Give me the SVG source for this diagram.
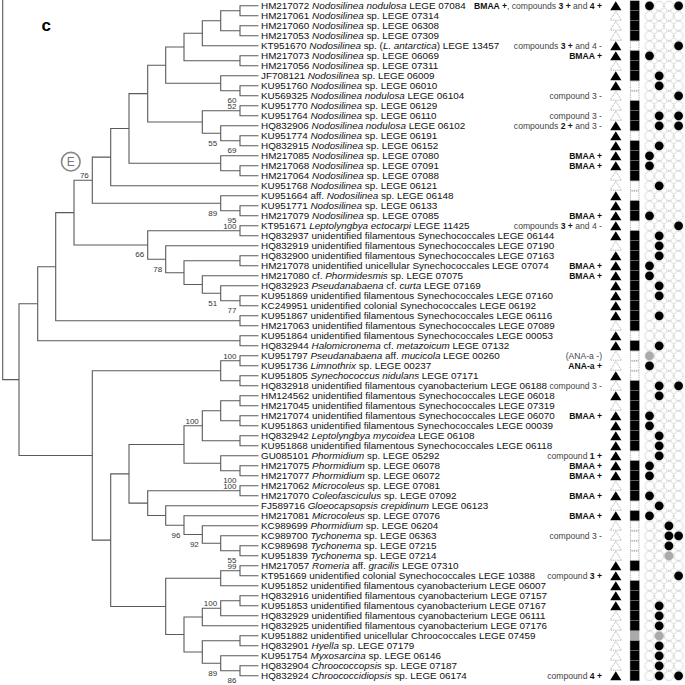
<svg xmlns="http://www.w3.org/2000/svg" width="685" height="685" viewBox="0 0 685 685">
<style>
.lab{font-family:"Liberation Sans",Arial,sans-serif;font-size:9.9px;fill:#111}
.i{font-style:italic}
.ann{font-family:"Liberation Sans",Arial,sans-serif;font-size:8.6px;fill:#444;text-anchor:end}
.b{font-weight:bold;fill:#111}
.bs{font-family:"Liberation Sans",Arial,sans-serif;font-size:8px;fill:#333;text-anchor:end}
.tree path{fill:none;stroke:#5a5a5a;stroke-width:1.1}
</style>
<defs>
<path id="tb" d="M0,-4.6 L5.6,4.4 L-5.6,4.4Z" fill="#000"/>
<path id="tw" d="M0,-4.6 L5.6,4.4 L-5.6,4.4Z" fill="#fff" stroke="#999" stroke-width="0.8" stroke-dasharray="1 0.8"/>
<rect id="sb" x="-4.65" y="-5" width="9.3" height="10" fill="#000" stroke="#888" stroke-width="0.4"/>
<rect id="sw" x="-4.3" y="-4.6" width="8.6" height="9.2" fill="#fff" stroke="#999" stroke-width="0.8" stroke-dasharray="1 0.8"/>
<rect id="sg" x="-4.65" y="-5" width="9.3" height="10" fill="#aaa"/>
<circle id="cb" r="4.4" fill="#000"/>
<circle id="cg" r="4.4" fill="#aaa"/>
<pattern id="dots" patternUnits="userSpaceOnUse" x="644.65" y="-5" width="9.7" height="10">
<circle cx="4.85" cy="5" r="4.6" fill="none" stroke="#a0a0a0" stroke-width="0.8" stroke-dasharray="1 0.8"/>
</pattern>
</defs>
<rect width="685" height="685" fill="#fff"/>
<g transform="translate(0,5.8)">
<text x="41.5" y="24.9" font-family="Liberation Sans,Arial,sans-serif" font-weight="bold" font-size="17">c</text>
<g id="clade-E"><circle cx="70.8" cy="155.9" r="9.3" fill="none" stroke="#888" stroke-width="1.6"/><text x="70.8" y="160.2" font-family="Liberation Sans,Arial,sans-serif" font-size="12" fill="#777" text-anchor="middle">E</text></g>
<g id="connectors" class="tree">
<path d="M2.7,-6 V373.8 H19"/>
<path d="M258.5,0 H240 V10 H258.5"/><path d="M258.5,20 H240 V30 H258.5"/><path d="M240,5 H220.7 V25 H240"/>
<path d="M220.7,15 H202.3 V40 H258.5"/><path d="M258.5,50 H240 V60 H258.5"/><path d="M202.3,27.5 H184 V55 H240"/>
<path d="M258.5,80 H240 V90 H258.5"/><path d="M258.5,70 H220.7 V85 H240"/><path d="M184,41.25 H165.7 V77.5 H220.7"/>
<path d="M258.5,100 H240 V110 H258.5"/><path d="M258.5,130 H240 V140 H258.5"/><path d="M258.5,120 H220.7 V135 H240"/>
<path d="M240,105 H202.3 V127.5 H220.7"/><path d="M165.7,59.38 H147.7 V116.25 H202.3"/>
<path d="M258.5,160 H240 V170 H258.5"/><path d="M258.5,150 H220.7 V165 H240"/><path d="M147.7,87.81 H129 V157.5 H220.7"/>
<path d="M129,122.66 H110.7 V180 H258.5"/><path d="M258.5,200 H240 V210 H258.5"/><path d="M258.5,190 H220.7 V205 H240"/>
<path d="M110.7,151.33 H92.3 V197.5 H220.7"/>
<path d="M258.5,220 H240 V230 H258.5"/><path d="M258.5,250 H240 V260 H258.5"/><path d="M258.5,290 H240 V300 H258.5"/>
<path d="M258.5,280 H220.7 V295 H240"/><path d="M258.5,270 H202.3 V287.5 H220.7"/><path d="M240,255 H184 V278.75 H202.3"/>
<path d="M258.5,240 H165.7 V266.88 H184"/><path d="M240,225 H147.7 V253.44 H165.7"/><path d="M92.3,174.41 H74 V239.22 H147.7"/>
<path d="M258.5,310 H240 V320 H258.5"/><path d="M74,206.8 H55.7 V315 H240"/><path d="M258.5,330 H240 V340 H258.5"/>
<path d="M55.7,260.9 H37.7 V335 H240"/>
<path d="M258.5,350 H240 V360 H258.5"/><path d="M258.5,370 H240 V380 H258.5"/><path d="M240,355 H220.7 V375 H240"/>
<path d="M258.5,390 H240 V400 H258.5"/><path d="M258.5,410 H240 V420 H258.5"/><path d="M240,395 H220.7 V415 H240"/>
<path d="M258.5,430 H240 V440 H258.5"/><path d="M220.7,405 H202.3 V435 H240"/><path d="M258.5,460 H240 V470 H258.5"/>
<path d="M258.5,450 H220.7 V465 H240"/><path d="M202.3,420 H184 V457.5 H220.7"/><path d="M258.5,480 H240 V490 H258.5"/>
<path d="M258.5,540 H240 V550 H258.5"/><path d="M258.5,530 H220.7 V545 H240"/><path d="M258.5,520 H202.3 V537.5 H220.7"/>
<path d="M258.5,510 H184 V528.75 H202.3"/><path d="M258.5,500 H165.7 V519.38 H184"/><path d="M240,485 H147.7 V509.69 H165.7"/>
<path d="M184,438.75 H129 V497.34 H147.7"/>
<path d="M258.5,560 H240 V570 H258.5"/><path d="M240,565 H220.7 V580 H258.5"/><path d="M258.5,590 H240 V600 H258.5"/>
<path d="M240,595 H220.7 V610 H258.5"/><path d="M220.7,602.5 H202.3 V620 H258.5"/><path d="M258.5,630 H240 V640 H258.5"/>
<path d="M258.5,660 H240 V670 H258.5"/><path d="M258.5,650 H220.7 V665 H240"/><path d="M240,635 H202.3 V657.5 H220.7"/>
<path d="M202.3,611.25 H184 V646.25 H202.3"/><path d="M220.7,572.5 H165.7 V628.75 H184"/><path d="M129,468.05 H110.7 V600.63 H165.7"/>
<path d="M220.7,365 H92.3 V534.34 H110.7"/><path d="M37.7,297.96 H19 V449.67 H92.3"/>
</g>
<g id="support">
<text class="bs" x="236.5" y="97.2">60</text><text class="bs" x="236.5" y="103.4">52</text>
<text class="bs" x="217.2" y="139.9">55</text><text class="bs" x="236.5" y="147.4">69</text>
<text class="bs" x="88.8" y="172.5">76</text><text class="bs" x="217.2" y="209.9">89</text>
<text class="bs" x="236.5" y="217.2">95</text><text class="bs" x="236.5" y="223.4">100</text>
<text class="bs" x="144.2" y="251.6">66</text><text class="bs" x="162.2" y="265.8">78</text>
<text class="bs" x="217.2" y="299.9">51</text><text class="bs" x="236.5" y="307.4">77</text>
<text class="bs" x="236.5" y="353.1">100</text><text class="bs" x="198.8" y="418.1">100</text>
<text class="bs" x="236.5" y="477.2">100</text><text class="bs" x="236.5" y="483.4">100</text>
<text class="bs" x="180.5" y="531.8">96</text><text class="bs" x="198.8" y="541.2">92</text>
<text class="bs" x="236.5" y="557.2">55</text><text class="bs" x="236.5" y="563.4">99</text>
<text class="bs" x="217.2" y="600.6">100</text><text class="bs" x="217.2" y="669.9">89</text>
<text class="bs" x="236.5" y="677.4">86</text>
</g>
<rect x="644.65" y="-5" width="38.8" height="680" fill="url(#dots)"/>
<g id="leaf-01" transform="translate(0,0)"><text class="lab" x="261" y="3.6">HM217072 <tspan class="i">Nodosilinea nodulosa</tspan> LEGE 07084</text><text class="ann" x="602" y="3.2"><tspan class="b">BMAA +</tspan>, compounds <tspan class="b">3 +</tspan> and <tspan class="b">4 +</tspan></text><use href="#tb" x="615.8"/><use href="#sb" x="634.7"/><use href="#cb" x="649.5"/><use href="#cb" x="678.6"/></g>
<g id="leaf-02" transform="translate(0,10)"><text class="lab" x="261" y="3.6">HM217061 <tspan class="i">Nodosilinea</tspan> sp. LEGE 07314</text><use href="#tw" x="615.8"/><use href="#sb" x="634.7"/></g>
<g id="leaf-03" transform="translate(0,20)"><text class="lab" x="261" y="3.6">HM217060 <tspan class="i">Nodosilinea</tspan> sp. LEGE 06308</text><use href="#tw" x="615.8"/><use href="#sb" x="634.7"/></g>
<g id="leaf-04" transform="translate(0,30)"><text class="lab" x="261" y="3.6">HM217053 <tspan class="i">Nodosilinea</tspan> sp. LEGE 07309</text><use href="#tw" x="615.8"/><use href="#sb" x="634.7"/></g>
<g id="leaf-05" transform="translate(0,40)"><text class="lab" x="261" y="3.6">KT951670 <tspan class="i">Nodosilinea</tspan> sp. (<tspan class="i">L. antarctica</tspan>) LEGE 13457</text><text class="ann" x="602" y="3.2">compounds <tspan class="b">3 +</tspan> and 4 -</text><use href="#tb" x="615.8"/><use href="#sw" x="634.7"/><use href="#cb" x="678.6"/></g>
<g id="leaf-06" transform="translate(0,50)"><text class="lab" x="261" y="3.6">HM217073 <tspan class="i">Nodosilinea</tspan> sp. LEGE 06069</text><text class="ann" x="602" y="3.2"><tspan class="b">BMAA +</tspan></text><use href="#tb" x="615.8"/><use href="#sb" x="634.7"/><use href="#cb" x="649.5"/></g>
<g id="leaf-07" transform="translate(0,60)"><text class="lab" x="261" y="3.6">HM217056 <tspan class="i">Nodosilinea</tspan> sp. LEGE 07311</text><use href="#tw" x="615.8"/><use href="#sb" x="634.7"/></g>
<g id="leaf-08" transform="translate(0,70)"><text class="lab" x="261" y="3.6">JF708121 <tspan class="i">Nodosilinea</tspan> sp. LEGE 06009</text><use href="#tb" x="615.8"/><use href="#sb" x="634.7"/><use href="#cb" x="659.2"/></g>
<g id="leaf-09" transform="translate(0,80)"><text class="lab" x="261" y="3.6">KU951760 <tspan class="i">Nodosilinea</tspan> sp. LEGE 06010</text><use href="#tb" x="615.8"/><use href="#sw" x="634.7"/><use href="#cb" x="659.2"/></g>
<g id="leaf-10" transform="translate(0,90)"><text class="lab" x="261" y="3.6">KU569325 <tspan class="i">Nodosilinea nodulosa</tspan> LEGE 06104</text><text class="ann" x="602" y="3.2">compound 3 -</text><use href="#tw" x="615.8"/><use href="#sw" x="634.7"/><use href="#cb" x="678.6"/></g>
<g id="leaf-11" transform="translate(0,100)"><text class="lab" x="261" y="3.6">KU951770 <tspan class="i">Nodosilinea</tspan> sp. LEGE 06129</text><use href="#tw" x="615.8"/><use href="#sb" x="634.7"/></g>
<g id="leaf-12" transform="translate(0,110)"><text class="lab" x="261" y="3.6">KU951764 <tspan class="i">Nodosilinea</tspan> sp. LEGE 06110</text><text class="ann" x="602" y="3.2">compound 3 -</text><use href="#tw" x="615.8"/><use href="#sb" x="634.7"/><use href="#cb" x="659.2"/><use href="#cb" x="678.6"/></g>
<g id="leaf-13" transform="translate(0,120)"><text class="lab" x="261" y="3.6">HQ832906 <tspan class="i">Nodosilinea nodulosa</tspan> LEGE 06102</text><text class="ann" x="602" y="3.2">compounds <tspan class="b">2 +</tspan> and 3 -</text><use href="#tb" x="615.8"/><use href="#sb" x="634.7"/><use href="#cb" x="659.2"/><use href="#cb" x="678.6"/></g>
<g id="leaf-14" transform="translate(0,130)"><text class="lab" x="261" y="3.6">KU951774 <tspan class="i">Nodosilinea</tspan> sp. LEGE 06191</text><use href="#tb" x="615.8"/><use href="#sw" x="634.7"/></g>
<g id="leaf-15" transform="translate(0,140)"><text class="lab" x="261" y="3.6">HQ832915 <tspan class="i">Nodosilinea</tspan> sp. LEGE 06152</text><use href="#tb" x="615.8"/><use href="#sb" x="634.7"/><use href="#cb" x="659.2"/></g>
<g id="leaf-16" transform="translate(0,150)"><text class="lab" x="261" y="3.6">HM217085 <tspan class="i">Nodosilinea</tspan> sp. LEGE 07080</text><text class="ann" x="602" y="3.2"><tspan class="b">BMAA +</tspan></text><use href="#tb" x="615.8"/><use href="#sb" x="634.7"/><use href="#cb" x="649.5"/></g>
<g id="leaf-17" transform="translate(0,160)"><text class="lab" x="261" y="3.6">HM217068 <tspan class="i">Nodosilinea</tspan> sp. LEGE 07091</text><text class="ann" x="602" y="3.2"><tspan class="b">BMAA +</tspan></text><use href="#tb" x="615.8"/><use href="#sb" x="634.7"/><use href="#cb" x="649.5"/></g>
<g id="leaf-18" transform="translate(0,170)"><text class="lab" x="261" y="3.6">HM217064 <tspan class="i">Nodosilinea</tspan> sp. LEGE 07088</text><use href="#tw" x="615.8"/><use href="#sb" x="634.7"/></g>
<g id="leaf-19" transform="translate(0,180)"><text class="lab" x="261" y="3.6">KU951768 <tspan class="i">Nodosilinea</tspan> sp. LEGE 06121</text><use href="#tw" x="615.8"/><use href="#sw" x="634.7"/><use href="#cb" x="659.2"/></g>
<g id="leaf-20" transform="translate(0,190)"><text class="lab" x="261" y="3.6">KU951664 aff. <tspan class="i">Nodosilinea</tspan> sp. LEGE 06148</text><use href="#tb" x="615.8"/><use href="#sw" x="634.7"/></g>
<g id="leaf-21" transform="translate(0,200)"><text class="lab" x="261" y="3.6">KU951771 <tspan class="i">Nodosilinea</tspan> sp. LEGE 06133</text><use href="#tb" x="615.8"/><use href="#sb" x="634.7"/></g>
<g id="leaf-22" transform="translate(0,210)"><text class="lab" x="261" y="3.6">HM217079 <tspan class="i">Nodosilinea</tspan> sp. LEGE 07085</text><text class="ann" x="602" y="3.2"><tspan class="b">BMAA +</tspan></text><use href="#tb" x="615.8"/><use href="#sb" x="634.7"/><use href="#cb" x="649.5"/></g>
<g id="leaf-23" transform="translate(0,220)"><text class="lab" x="261" y="3.6">KT951671 <tspan class="i">Leptolyngbya ectocarpi</tspan> LEGE 11425</text><text class="ann" x="602" y="3.2">compounds <tspan class="b">3 +</tspan> and 4 -</text><use href="#tb" x="615.8"/><use href="#sw" x="634.7"/><use href="#cb" x="678.6"/></g>
<g id="leaf-24" transform="translate(0,230)"><text class="lab" x="261" y="3.6">HQ832937 unidentified filamentous Synechococcales LEGE 06144</text><use href="#tb" x="615.8"/><use href="#sb" x="634.7"/><use href="#cb" x="659.2"/></g>
<g id="leaf-25" transform="translate(0,240)"><text class="lab" x="261" y="3.6">HQ832919 unidentified filamentous Synechococcales LEGE 07190</text><use href="#tw" x="615.8"/><use href="#sb" x="634.7"/><use href="#cb" x="659.2"/></g>
<g id="leaf-26" transform="translate(0,250)"><text class="lab" x="261" y="3.6">HQ832900 unidentified filamentous Synechococcales LEGE 07163</text><use href="#tb" x="615.8"/><use href="#sb" x="634.7"/><use href="#cb" x="659.2"/></g>
<g id="leaf-27" transform="translate(0,260)"><text class="lab" x="261" y="3.6">HM217078 unidentified unicellular Synechococcales LEGE 07074</text><text class="ann" x="602" y="3.2"><tspan class="b">BMAA +</tspan></text><use href="#tb" x="615.8"/><use href="#sb" x="634.7"/><use href="#cb" x="649.5"/></g>
<g id="leaf-28" transform="translate(0,270)"><text class="lab" x="261" y="3.6">HM217080 cf. <tspan class="i">Phormidesmis</tspan> sp. LEGE 07075</text><text class="ann" x="602" y="3.2"><tspan class="b">BMAA +</tspan></text><use href="#tb" x="615.8"/><use href="#sb" x="634.7"/><use href="#cb" x="649.5"/></g>
<g id="leaf-29" transform="translate(0,280)"><text class="lab" x="261" y="3.6">HQ832923 <tspan class="i">Pseudanabaena</tspan> cf. <tspan class="i">curta</tspan> LEGE 07169</text><use href="#tb" x="615.8"/><use href="#sb" x="634.7"/><use href="#cb" x="659.2"/></g>
<g id="leaf-30" transform="translate(0,290)"><text class="lab" x="261" y="3.6">KU951869 unidentified filamentous Synechococcales LEGE 07160</text><use href="#tb" x="615.8"/><use href="#sb" x="634.7"/><use href="#cb" x="659.2"/></g>
<g id="leaf-31" transform="translate(0,300)"><text class="lab" x="261" y="3.6">KC249951 unidentified colonial Synechococcales LEGE 06192</text><use href="#tb" x="615.8"/><use href="#sb" x="634.7"/></g>
<g id="leaf-32" transform="translate(0,310)"><text class="lab" x="261" y="3.6">KU951867 unidentified filamentous Synechococcales LEGE 06116</text><use href="#tb" x="615.8"/><use href="#sb" x="634.7"/><use href="#cb" x="659.2"/></g>
<g id="leaf-33" transform="translate(0,320)"><text class="lab" x="261" y="3.6">HM217063 unidentified filamentous Synechococcales LEGE 07089</text><use href="#tw" x="615.8"/><use href="#sb" x="634.7"/></g>
<g id="leaf-34" transform="translate(0,330)"><text class="lab" x="261" y="3.6">KU951864 unidentified filamentous Synechococcales LEGE 00053</text><use href="#tb" x="615.8"/><use href="#sw" x="634.7"/></g>
<g id="leaf-35" transform="translate(0,340)"><text class="lab" x="261" y="3.6">HQ832944 <tspan class="i">Halomicronema</tspan> cf. <tspan class="i">metazoicum</tspan> LEGE 07132</text><use href="#tb" x="615.8"/><use href="#sb" x="634.7"/><use href="#cb" x="659.2"/></g>
<g id="leaf-36" transform="translate(0,350)"><text class="lab" x="261" y="3.6">KU951797 <tspan class="i">Pseudanabaena</tspan> aff. <tspan class="i">mucicola</tspan> LEGE 00260</text><text class="ann" x="602" y="3.2">(ANA-a -)</text><use href="#tw" x="615.8"/><use href="#sw" x="634.7"/><use href="#cg" x="649.5"/></g>
<g id="leaf-37" transform="translate(0,360)"><text class="lab" x="261" y="3.6">KU951736 <tspan class="i">Limnothrix</tspan> sp. LEGE 00237</text><text class="ann" x="602" y="3.2"><tspan class="b">ANA-a +</tspan></text><use href="#tw" x="615.8"/><use href="#sw" x="634.7"/><use href="#cb" x="649.5"/></g>
<g id="leaf-38" transform="translate(0,370)"><text class="lab" x="261" y="3.6">KU951805 <tspan class="i">Synechococcus nidulans</tspan> LEGE 07171</text><use href="#tb" x="615.8"/><use href="#sw" x="634.7"/></g>
<g id="leaf-39" transform="translate(0,380)"><text class="lab" x="261" y="3.6">HQ832918 unidentified filamentous cyanobacterium LEGE 06188</text><text class="ann" x="602" y="3.2">compound 3 -</text><use href="#tw" x="615.8"/><use href="#sb" x="634.7"/><use href="#cb" x="659.2"/><use href="#cb" x="678.6"/></g>
<g id="leaf-40" transform="translate(0,390)"><text class="lab" x="261" y="3.6">HM124562 unidentified filamentous Synechococcales LEGE 06018</text><use href="#tb" x="615.8"/><use href="#sb" x="634.7"/><use href="#cb" x="659.2"/></g>
<g id="leaf-41" transform="translate(0,400)"><text class="lab" x="261" y="3.6">HM217045 unidentified filamentous Synechococcales LEGE 07319</text><use href="#tw" x="615.8"/><use href="#sb" x="634.7"/></g>
<g id="leaf-42" transform="translate(0,410)"><text class="lab" x="261" y="3.6">HM217074 unidentified filamentous Synechococcales LEGE 06070</text><text class="ann" x="602" y="3.2"><tspan class="b">BMAA +</tspan></text><use href="#tb" x="615.8"/><use href="#sb" x="634.7"/><use href="#cb" x="649.5"/></g>
<g id="leaf-43" transform="translate(0,420)"><text class="lab" x="261" y="3.6">KU951863 unidentified filamentous Synechococcales LEGE 00039</text><use href="#tb" x="615.8"/><use href="#sb" x="634.7"/><use href="#cb" x="649.5"/></g>
<g id="leaf-44" transform="translate(0,430)"><text class="lab" x="261" y="3.6">HQ832942 <tspan class="i">Leptolyngbya mycoidea</tspan> LEGE 06108</text><use href="#tb" x="615.8"/><use href="#sb" x="634.7"/><use href="#cb" x="659.2"/></g>
<g id="leaf-45" transform="translate(0,440)"><text class="lab" x="261" y="3.6">KU951868 unidentified filamentous Synechococcales LEGE 06118</text><use href="#tb" x="615.8"/><use href="#sb" x="634.7"/><use href="#cb" x="659.2"/></g>
<g id="leaf-46" transform="translate(0,450)"><text class="lab" x="261" y="3.6">GU085101 <tspan class="i">Phormidium</tspan> sp. LEGE 05292</text><text class="ann" x="602" y="3.2">compound <tspan class="b">1 +</tspan></text><use href="#tb" x="615.8"/><use href="#sw" x="634.7"/><use href="#cb" x="659.2"/></g>
<g id="leaf-47" transform="translate(0,460)"><text class="lab" x="261" y="3.6">HM217075 <tspan class="i">Phormidium</tspan> sp. LEGE 06078</text><text class="ann" x="602" y="3.2"><tspan class="b">BMAA +</tspan></text><use href="#tb" x="615.8"/><use href="#sb" x="634.7"/><use href="#cb" x="649.5"/></g>
<g id="leaf-48" transform="translate(0,470)"><text class="lab" x="261" y="3.6">HM217077 <tspan class="i">Phormidium</tspan> sp. LEGE 06072</text><text class="ann" x="602" y="3.2"><tspan class="b">BMAA +</tspan></text><use href="#tb" x="615.8"/><use href="#sb" x="634.7"/><use href="#cb" x="649.5"/></g>
<g id="leaf-49" transform="translate(0,480)"><text class="lab" x="261" y="3.6">HM217062 <tspan class="i">Microcoleus</tspan> sp. LEGE 07081</text><use href="#tw" x="615.8"/><use href="#sb" x="634.7"/></g>
<g id="leaf-50" transform="translate(0,490)"><text class="lab" x="261" y="3.6">HM217070 <tspan class="i">Coleofasciculus</tspan> sp. LEGE 07092</text><text class="ann" x="602" y="3.2"><tspan class="b">BMAA +</tspan></text><use href="#tb" x="615.8"/><use href="#sb" x="634.7"/><use href="#cb" x="649.5"/></g>
<g id="leaf-51" transform="translate(0,500)"><text class="lab" x="261" y="3.6">FJ589716 <tspan class="i">Gloeocapsopsis crepidinum</tspan> LEGE 06123</text><use href="#tw" x="615.8"/><use href="#sw" x="634.7"/><use href="#cb" x="659.2"/></g>
<g id="leaf-52" transform="translate(0,510)"><text class="lab" x="261" y="3.6">HM217081 <tspan class="i">Microcoleus</tspan> sp. LEGE 07076</text><text class="ann" x="602" y="3.2"><tspan class="b">BMAA +</tspan></text><use href="#tb" x="615.8"/><use href="#sb" x="634.7"/><use href="#cb" x="649.5"/></g>
<g id="leaf-53" transform="translate(0,520)"><text class="lab" x="261" y="3.6">KC989699 <tspan class="i">Phormidium</tspan> sp. LEGE 06204</text><use href="#tw" x="615.8"/><use href="#sw" x="634.7"/><use href="#cb" x="668.9"/></g>
<g id="leaf-54" transform="translate(0,530)"><text class="lab" x="261" y="3.6">KC989700 <tspan class="i">Tychonema</tspan> sp. LEGE 06363</text><text class="ann" x="602" y="3.2">compound 3 -</text><use href="#tw" x="615.8"/><use href="#sw" x="634.7"/><use href="#cb" x="668.9"/><use href="#cb" x="678.6"/></g>
<g id="leaf-55" transform="translate(0,540)"><text class="lab" x="261" y="3.6">KC989698 <tspan class="i">Tychonema</tspan> sp. LEGE 07215</text><use href="#tw" x="615.8"/><use href="#sw" x="634.7"/><use href="#cb" x="668.9"/></g>
<g id="leaf-56" transform="translate(0,550)"><text class="lab" x="261" y="3.6">KU951839 <tspan class="i">Tychonema</tspan> sp. LEGE 07214</text><use href="#tw" x="615.8"/><use href="#sw" x="634.7"/><use href="#cg" x="668.9"/></g>
<g id="leaf-57" transform="translate(0,560)"><text class="lab" x="261" y="3.6">HM217057 <tspan class="i">Romeria</tspan> aff. <tspan class="i">gracilis</tspan> LEGE 07310</text><use href="#tb" x="615.8"/><use href="#sb" x="634.7"/></g>
<g id="leaf-58" transform="translate(0,570)"><text class="lab" x="261" y="3.6">KT951669 unidentified colonial Synechococcales LEGE 10388</text><text class="ann" x="602" y="3.2">compound <tspan class="b">3 +</tspan></text><use href="#tb" x="615.8"/><use href="#sw" x="634.7"/><use href="#cb" x="678.6"/></g>
<g id="leaf-59" transform="translate(0,580)"><text class="lab" x="261" y="3.6">KU951852 unidentified filamentous cyanobacterium LEGE 06007</text><use href="#tb" x="615.8"/><use href="#sb" x="634.7"/></g>
<g id="leaf-60" transform="translate(0,590)"><text class="lab" x="261" y="3.6">HQ832916 unidentified filamentous cyanobacterium LEGE 07157</text><use href="#tb" x="615.8"/><use href="#sb" x="634.7"/></g>
<g id="leaf-61" transform="translate(0,600)"><text class="lab" x="261" y="3.6">KU951853 unidentified filamentous cyanobacterium LEGE 07167</text><use href="#tb" x="615.8"/><use href="#sb" x="634.7"/><use href="#cb" x="659.2"/></g>
<g id="leaf-62" transform="translate(0,610)"><text class="lab" x="261" y="3.6">HQ832929 unidentified filamentous cyanobacterium LEGE 06111</text><use href="#tw" x="615.8"/><use href="#sb" x="634.7"/><use href="#cb" x="659.2"/></g>
<g id="leaf-63" transform="translate(0,620)"><text class="lab" x="261" y="3.6">HQ832925 unidentified filamentous cyanobacterium LEGE 07176</text><use href="#tw" x="615.8"/><use href="#sb" x="634.7"/><use href="#cb" x="659.2"/></g>
<g id="leaf-64" transform="translate(0,630)"><text class="lab" x="261" y="3.6">KU951882 unidentified unicellular Chroococcales LEGE 07459</text><use href="#tw" x="615.8"/><use href="#sg" x="634.7"/><use href="#cg" x="659.2"/></g>
<g id="leaf-65" transform="translate(0,640)"><text class="lab" x="261" y="3.6">HQ832901 <tspan class="i">Hyella</tspan> sp. LEGE 07179</text><use href="#tw" x="615.8"/><use href="#sb" x="634.7"/><use href="#cb" x="659.2"/></g>
<g id="leaf-66" transform="translate(0,650)"><text class="lab" x="261" y="3.6">KU951754 <tspan class="i">Myxosarcina</tspan> sp. LEGE 06146</text><use href="#tw" x="615.8"/><use href="#sb" x="634.7"/><use href="#cb" x="659.2"/></g>
<g id="leaf-67" transform="translate(0,660)"><text class="lab" x="261" y="3.6">HQ832904 <tspan class="i">Chroococcopsis</tspan> sp. LEGE 07187</text><use href="#tw" x="615.8"/><use href="#sb" x="634.7"/><use href="#cb" x="659.2"/></g>
<g id="leaf-68" transform="translate(0,670)"><text class="lab" x="261" y="3.6">HQ832924 <tspan class="i">Chroococcidiopsis</tspan> sp. LEGE 06174</text><text class="ann" x="602" y="3.2">compound <tspan class="b">4 +</tspan></text><use href="#tb" x="615.8"/><use href="#sb" x="634.7"/><use href="#cb" x="659.2"/><use href="#cb" x="678.6"/></g>
</g>
</svg>
